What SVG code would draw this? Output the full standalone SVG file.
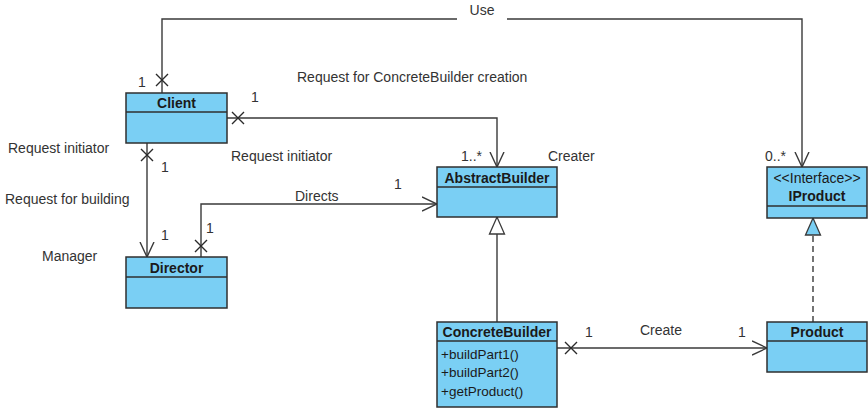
<svg xmlns="http://www.w3.org/2000/svg" width="868" height="411" viewBox="0 0 868 411">
  <style>
    .box { fill: #7ACFF4; stroke: #2f2f2f; stroke-width: 1.5; }
    .div { stroke: #2f2f2f; stroke-width: 1.5; }
    .cn { font-family: "Liberation Sans", Arial, sans-serif; font-size: 14px; font-weight: bold; fill: #1a1a1a; text-anchor: middle; }
    .st { font-family: "Liberation Sans", Arial, sans-serif; font-size: 14px; fill: #1a1a1a; text-anchor: middle; }
    .op { font-family: "Liberation Sans", Arial, sans-serif; font-size: 13.5px; fill: #1a1a1a; }
    .lbl { font-family: "Liberation Sans", Arial, sans-serif; font-size: 14px; fill: #333; }
    .ln { fill: none; stroke: #3a3a3a; stroke-width: 1.4; }
    .dash { fill: none; stroke: #3a3a3a; stroke-width: 1.4; stroke-dasharray: 6 4; }
  </style>
  <defs>
    <marker id="open" viewBox="0 0 16 16" refX="15" refY="8" markerWidth="16" markerHeight="16" markerUnits="userSpaceOnUse" orient="auto">
      <path d="M0,1 L15,8 L0,15" fill="none" stroke="#3a3a3a" stroke-width="1.4"/>
    </marker>
    <marker id="gen" viewBox="0 0 20 18" refX="18" refY="9" markerWidth="20" markerHeight="18" markerUnits="userSpaceOnUse" orient="auto">
      <path d="M1,1.5 L18,9 L1,16.5 Z" fill="#ffffff" stroke="#3a3a3a" stroke-width="1.3"/>
    </marker>
    <marker id="real" viewBox="0 0 20 18" refX="18" refY="9" markerWidth="20" markerHeight="18" markerUnits="userSpaceOnUse" orient="auto">
      <path d="M1,1.5 L18,9 L1,16.5 Z" fill="#7ACFF4" stroke="#3a3a3a" stroke-width="1.3"/>
    </marker>
    <path id="xmark" d="M-6,-6 L6,6 M-6,6 L6,-6" fill="none" stroke="#2a2a2a" stroke-width="1.4"/>
  </defs>

  <!-- connectors -->
  <g id="connectors">
    <!-- Client -> IProduct (Use) -->
    <path class="ln" d="M162,93 V19 H802 V167" marker-end="url(#open)"/>
    <rect x="457" y="14" width="50" height="10" fill="#ffffff"/>
    <use href="#xmark" x="162" y="80"/>
    <!-- Client -> AbstractBuilder -->
    <path class="ln" d="M227,118 H497 V167" marker-end="url(#open)"/>
    <use href="#xmark" x="238" y="118"/>
    <!-- Client -> Director -->
    <path class="ln" d="M147,143 V257" marker-end="url(#open)"/>
    <use href="#xmark" x="147" y="155"/>
    <!-- Director -> AbstractBuilder -->
    <path class="ln" d="M201,257 V204 H437" marker-end="url(#open)"/>
    <use href="#xmark" x="201" y="246"/>
    <!-- ConcreteBuilder -> AbstractBuilder generalization -->
    <path class="ln" d="M497,322 V217" marker-end="url(#gen)"/>
    <!-- Product -> IProduct realization -->
    <path class="dash" d="M813,322 V218" marker-end="url(#real)"/>
    <!-- ConcreteBuilder -> Product -->
    <path class="ln" d="M557,348 H767" marker-end="url(#open)"/>
    <use href="#xmark" x="571" y="348"/>
  </g>

  <!-- connector labels -->
  <g id="labels">
    <text class="lbl" x="482" y="15" text-anchor="middle">Use</text>
    <text class="lbl" x="138" y="87">1</text>
    <text class="lbl" x="251" y="102">1</text>
    <text class="lbl" x="297" y="82">Request for ConcreteBuilder creation</text>
    <text class="lbl" x="231" y="161">Request initiator</text>
    <text class="lbl" x="461" y="161">1..*</text>
    <text class="lbl" x="548" y="161">Creater</text>
    <text class="lbl" x="765" y="161">0..*</text>
    <text class="lbl" x="8" y="153">Request initiator</text>
    <text class="lbl" x="161" y="172">1</text>
    <text class="lbl" x="5" y="204">Request for building</text>
    <text class="lbl" x="295" y="201">Directs</text>
    <text class="lbl" x="394" y="189">1</text>
    <text class="lbl" x="206" y="233">1</text>
    <text class="lbl" x="161" y="240">1</text>
    <text class="lbl" x="42" y="261">Manager</text>
    <text class="lbl" x="585" y="337">1</text>
    <text class="lbl" x="640" y="335">Create</text>
    <text class="lbl" x="738" y="337">1</text>
  </g>

  <g id="client">
    <rect class="box" x="126" y="93" width="101" height="50"/>
    <line class="div" x1="126" y1="112" x2="227" y2="112"/>
    <text class="cn" x="176.5" y="108">Client</text>
  </g>

  <g id="director">
    <rect class="box" x="126" y="257" width="101" height="51"/>
    <line class="div" x1="126" y1="277" x2="227" y2="277"/>
    <text class="cn" x="176.5" y="273">Director</text>
  </g>

  <g id="abstractbuilder">
    <rect class="box" x="437" y="167" width="120" height="50"/>
    <line class="div" x1="437" y1="187" x2="557" y2="187"/>
    <text class="cn" x="497" y="183">AbstractBuilder</text>
  </g>

  <g id="iproduct">
    <rect class="box" x="767" y="167" width="100" height="51"/>
    <line class="div" x1="767" y1="206" x2="867" y2="206"/>
    <text class="st" x="817" y="183">&lt;&lt;Interface&gt;&gt;</text>
    <text class="cn" x="817" y="201">IProduct</text>
  </g>

  <g id="concretebuilder">
    <rect class="box" x="437" y="322" width="120" height="85"/>
    <line class="div" x1="437" y1="341" x2="557" y2="341"/>
    <text class="cn" x="497" y="337">ConcreteBuilder</text>
    <text class="op" x="441" y="359">+buildPart1()</text>
    <text class="op" x="441" y="377">+buildPart2()</text>
    <text class="op" x="441" y="396">+getProduct()</text>
  </g>

  <g id="product">
    <rect class="box" x="767" y="322" width="100" height="50"/>
    <line class="div" x1="767" y1="341" x2="867" y2="341"/>
    <text class="cn" x="817" y="337">Product</text>
  </g>
</svg>
